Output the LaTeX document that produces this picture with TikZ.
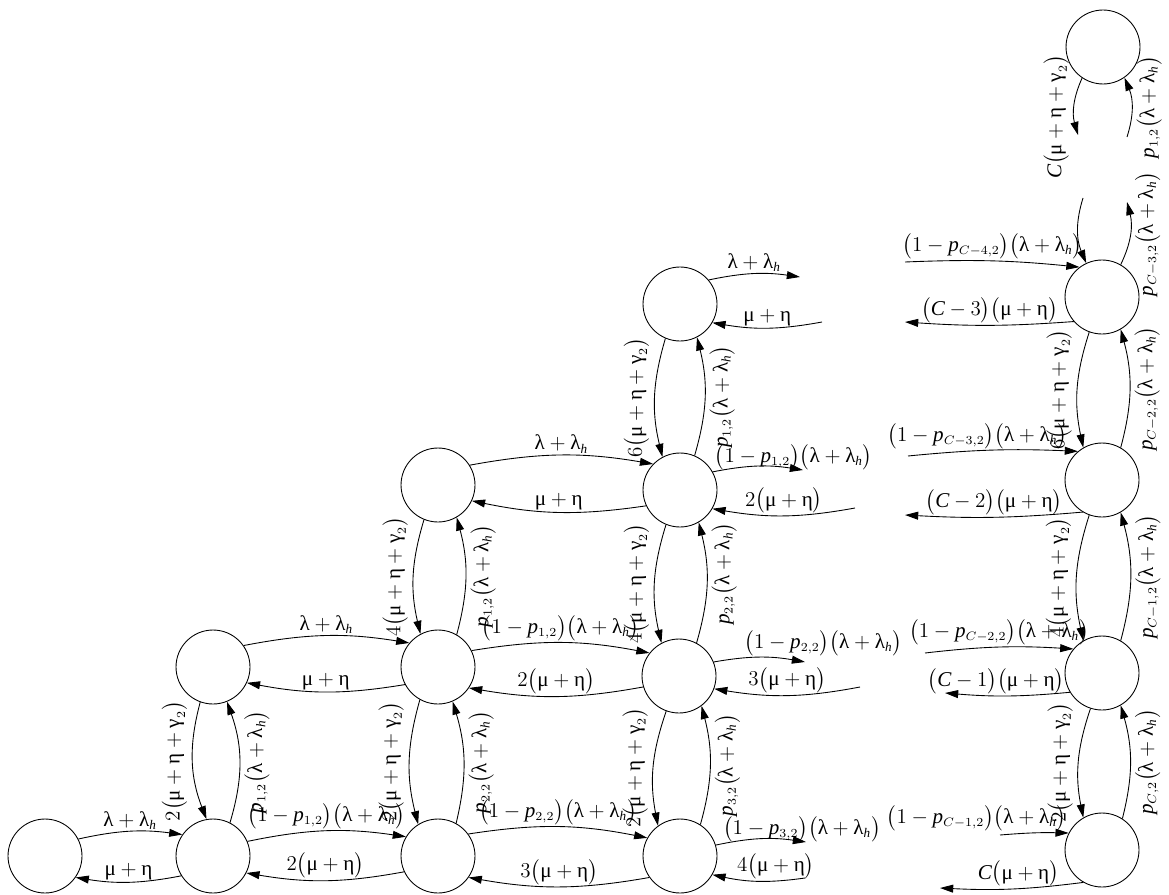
\documentclass[tikz,border=0pt]{standalone}
\usepackage{amsmath}
\usepackage{fontspec}
\setmainfont{Liberation Serif}
\usetikzlibrary{arrows.meta}
\DeclareMathSizes{12}{12}{7.5}{6}
\newcommand\glam{\text{λ}}
\newcommand\gmu{\text{μ}}
\newcommand\geta{\text{η}}
\newcommand\ggam{\text{γ}}
\newcommand\LH{\bigl(\glam+\glam_{\mathit{h}}\bigr)}
\newcommand\ME{\bigl(\gmu+\geta\bigr)}
\newcommand\MG{\bigl(\gmu+\geta+\ggam_{2}\bigr)}
\newcommand\Qp[1]{\bigl(1-\mathit{p}_{#1}\bigr)\LH}
\newcommand\Pp[1]{\mathit{p}_{#1}\LH}
\newcommand\Cm[1]{\bigl(\mathit{C}-#1\bigr)\ME}
\begin{document}
\begin{tikzpicture}[x=0.02cm,y=-0.02cm,
   font=\fontsize{12}{14}\selectfont,
   every node/.style={inner sep=1pt},
   state/.style={draw,circle,minimum size=1.48cm,inner sep=0pt,line width=0.5pt},
   tr/.style={-{Triangle[length=7.5pt,width=4.5pt]},line width=0.5pt},
   lv/.style={rotate=90,anchor=south,inner sep=3pt},
   rv/.style={rotate=90,anchor=north,inner sep=2.5pt}]
\useasboundingbox (0,0) rectangle (1169,895);
\node[state] (s00) at (45,856) {};
\node[state] (s10) at (213,856) {};
\node[state] (s11) at (213,667) {};
\node[state] (s20) at (438,856) {};
\node[state] (s21) at (438,667) {};
\node[state] (s22) at (438,485) {};
\node[state] (s30) at (680,856) {};
\node[state] (s31) at (679,676) {};
\node[state] (s32) at (680,490) {};
\node[state] (s33) at (680,304) {};
\node[state] (sC0) at (1102,850) {};
\node[state] (sC1) at (1102,673) {};
\node[state] (sC2) at (1102,480) {};
\node[state] (sC3) at (1102,297) {};
\node[state] (sC4) at (1103,47) {};
\coordinate (o30) at (806,842);
\coordinate (i30) at (805,878);
\coordinate (o31) at (805,662);
\coordinate (i31) at (860,687);
\coordinate (o32) at (803,470);
\coordinate (i32) at (855,508);
\coordinate (o33) at (800,277);
\coordinate (i33) at (822,322);
\coordinate (iC0) at (1000,835);
\coordinate (oC0) at (940,888);
\coordinate (iC1) at (925,653);
\coordinate (oC1) at (945,693);
\coordinate (iC2) at (908,456);
\coordinate (oC2) at (905,515);
\coordinate (iC3) at (905,262);
\coordinate (oC3) at (905,322);
\coordinate (t1) at (1078,135);
\coordinate (t2) at (1127,137);
\coordinate (t3) at (1083,198);
\coordinate (t4) at (1127,202);
\draw[tr] (s00.27) to[bend left=10] node[above] {$\glam+\glam_{\mathit{h}}$} (s10.145);
\draw[tr] (s10.212) to[bend left=10] node[above] {$\gmu+\geta$} (s00.325);
\draw[tr] (s10.23) to[bend left=10] node[above] {$\Qp{1,2}$} (s20.149);
\draw[tr] (s20.205) to[bend left=10] node[above] {$2\ME$} (s10.333);
\draw[tr] (s20.36) to[bend left=10] node[above] {$\Qp{2,2}$} (s30.151);
\draw[tr] (s30.215) to[bend left=10] node[above] {$3\ME$} (s20.325);
\draw[tr] (s11.35) to[bend left=10] node[above] {$\glam+\glam_{\mathit{h}}$} (s21.140);
\draw[tr] (s21.208) to[bend left=10] node[above] {$\gmu+\geta$} (s11.335);
\draw[tr] (s21.26) to[bend left=10] node[above] {$\Qp{1,2}$} (s31.142);
\draw[tr] (s31.197) to[bend left=10] node[above] {$2\ME$} (s21.326);
\draw[tr] (s22.32) to[bend left=10] node[above] {$\glam+\glam_{\mathit{h}}$} (s32.136);
\draw[tr] (s32.205) to[bend left=10] node[above] {$\gmu+\geta$} (s22.335);
\draw[tr] (s30.17) to[bend left=10] node[anchor=south west,pos=0.05] {$\Qp{3,2}$} (o30);
\draw[tr] (i30) to[bend left=10] node[above,pos=0.3] {$4\ME$} (s30.330);
\draw[tr] (s31.22) to[bend left=10] node[anchor=south west,pos=0.3] {$\Qp{2,2}$} (o31);
\draw[tr] (i31) to[bend left=10] node[above] {$3\ME$} (s31.340);
\draw[tr] (s32.29) to[bend left=10] node[anchor=south west,pos=0] {$\Qp{1,2}$} (o32);
\draw[tr] (i32) to[bend left=10] node[above] {$2\ME$} (s32.330);
\draw[tr] (s33.40) to[bend left=10] node[above] {$\glam+\glam_{\mathit{h}}$} (o33);
\draw[tr] (i33) to[bend left=10] node[above] {$\gmu+\geta$} (s33.330);
\draw[tr] (iC0) to[bend left=3] node[anchor=south east,pos=1] {$\Qp{C-1,2}$} (sC0.153);
\draw[tr] (sC0.240) to[bend left=5] node[above,pos=0.45] {$\mathit{C}\ME$} (oC0);
\draw[tr] (iC1) to[bend left=5] node[above] {$\Qp{C-2,2}$} (sC1.140);
\draw[tr] (sC1.211) to[bend left=5] node[above,pos=0.6] {$\Cm{1}$} (oC1);
\draw[tr] (iC2) to[bend left=4] node[above,pos=0.4] {$\Qp{C-3,2}$} (sC2.130);
\draw[tr] (sC2.239) to[bend left=4] node[above] {$\Cm{2}$} (oC2);
\draw[tr] (iC3) to[bend left=4] node[above] {$\Qp{C-4,2}$} (sC3.127);
\draw[tr] (sC3.221) to[bend left=4] node[above] {$\Cm{3}$} (oC3);
\draw[tr] (s11.250) to[bend right=18] node[lv] {$2\MG$} (s10.100);
\draw[tr] (s10.63) to[bend right=18] node[rv] {$\Pp{1,2}$} (s11.292);
\draw[tr] (s21.241) to[bend right=15] node[lv] {$2\MG$} (s20.122);
\draw[tr] (s20.61) to[bend right=15] node[rv] {$\Pp{2,2}$} (s21.293);
\draw[tr] (s22.248) to[bend right=15] node[lv] {$4\MG$} (s21.118);
\draw[tr] (s21.60) to[bend right=15] node[rv] {$\Pp{1,2}$} (s22.300);
\draw[tr] (s31.250) to[bend right=15] node[lv] {$2\MG$} (s30.126);
\draw[tr] (s30.57) to[bend right=15] node[rv] {$\Pp{3,2}$} (s31.307);
\draw[tr] (s32.248) to[bend right=15] node[lv] {$4\MG$} (s31.118);
\draw[tr] (s31.62) to[bend right=15] node[rv,pos=0.58] {$\Pp{2,2}$} (s32.300);
\draw[tr] (s33.247) to[bend right=15] node[lv] {$6\MG$} (s32.118);
\draw[tr] (s32.67) to[bend right=15] node[rv] {$\Pp{1,2}$} (s33.297);
\draw[tr] (sC1.252) to[bend right=15] node[lv] {$2\MG$} (sC0.120);
\draw[tr] (sC0.57) to[bend right=15] node[rv] {$\Pp{C,2}$} (sC1.300);
\draw[tr] (sC2.250) to[bend right=15] node[lv] {$4\MG$} (sC1.120);
\draw[tr] (sC1.60) to[bend right=15] node[rv] {$\Pp{C-1,2}$} (sC2.300);
\draw[tr] (sC3.250) to[bend right=15] node[lv] {$6\MG$} (sC2.120);
\draw[tr] (sC2.60) to[bend right=15] node[rv] {$\Pp{C-2,2}$} (sC3.300);
\draw[tr] (sC4.236) to[bend right=20] node[lv,pos=0.7] {$\mathit{C}\MG$} (t1);
\draw[tr] (t2) to[bend right=20] node[rv] {$\Pp{1,2}$} (sC4.305);
\draw[tr] (t3) to[bend right=20] (sC3.115);
\draw[tr] (sC3.60) to[bend right=20] node[rv] {$\Pp{C-3,2}$} (t4);
\end{tikzpicture}
\end{document}
